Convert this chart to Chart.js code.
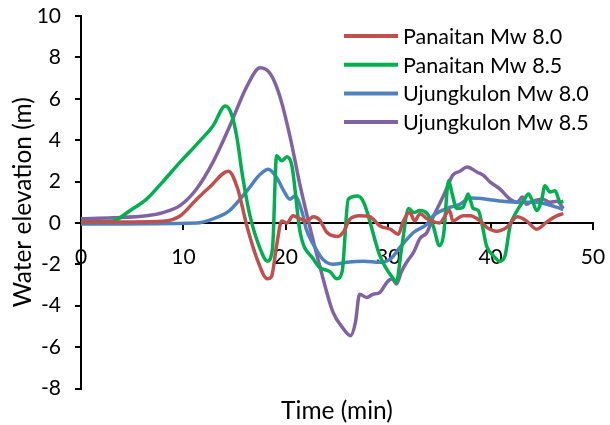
<!DOCTYPE html>
<html>
<head>
<meta charset="utf-8">
<script src="https://cdn.jsdelivr.net/npm/chart.js@4"></script>
<style>
  html, body { margin: 0; padding: 0; background: #fff; }
  #wrap { width: 610px; height: 425px; }
</style>
</head>
<body>
<div id="wrap"><canvas id="chart" width="610" height="425"></canvas></div>
<script>
// series names
const seriesNames = ["Panaitan Mw 8.0", "Panaitan Mw 8.5", "Ujungkulon Mw 8.0", "Ujungkulon Mw 8.5"];
const seriesColors = ["#C0504D", "#00B050", "#4F81BD", "#8064A2"];

// Panaitan Mw 8.0
const timeP80 = [0, 5, 8, 9.7, 11.3, 12.6, 14.4, 15.3, 16.2, 17.2, 18.2, 18.6, 19.1, 19.6, 20.1, 20.7, 21.4, 22.0, 22.7, 23.3, 24.0, 25.1, 25.6, 26.3, 27.2, 28.2, 29.2, 30.2, 31.0, 31.4, 32.1, 32.6, 33.1, 33.8, 35.0, 36.0, 36.3, 37.3, 38.0, 39.0, 39.6, 40.6, 41.6, 42.6, 43.5, 44.5, 45.5, 46.5, 47.1];
const elevP80 = [0.05, 0.05, 0.08, 0.35, 1.15, 1.75, 2.5, 1.65, -0.15, -1.75, -2.7, -2.6, -1.1, 0.1, 0.0, 0.35, 0.2, 0.1, 0.3, 0.15, -0.45, -0.65, -0.45, 0.2, 0.35, 0.3, -0.15, -0.3, -0.55, 0.0, 0.5, 0.1, 0.45, 0.2, 0.0, 0.6, 0.1, 0.35, 0.35, 0.1, -0.2, -0.4, -0.2, 0.3, 0.1, -0.3, 0.05, 0.35, 0.45];

// Panaitan Mw 8.5
const timeP85 = [0, 3.1, 4.8, 6.4, 8.0, 9.7, 11.3, 12.9, 14.1, 14.7, 15.2, 15.8, 16.5, 17.5, 18.2, 18.7, 19.1, 19.6, 20.1, 20.6, 21.4, 22.7, 23.3, 24.3, 25.0, 25.5, 26.1, 27.0, 27.6, 29.2, 30.5, 30.8, 31.3, 32.0, 32.5, 33.1, 33.8, 34.4, 35.0, 35.4, 35.9, 36.2, 36.7, 37.3, 37.8, 38.3, 38.8, 39.2, 39.6, 40.3, 40.9, 41.4, 41.9, 42.6, 43.2, 43.7, 44.1, 44.5, 45.0, 45.3, 45.8, 46.3, 46.8, 47.1];
const elevP85 = [0.05, 0.1, 0.6, 1.15, 2.0, 2.95, 3.8, 4.7, 5.65, 5.25, 4.2, 2.2, 0.35, -1.25, -1.85, -1.25, 3.25, 3.0, 3.2, 2.75, -0.45, -1.75, -2.15, -2.35, -2.7, -2.35, 1.15, 1.3, 1.0, -1.6, -2.7, -2.85, -1.25, 0.7, 0.5, 0.6, 0.45, -0.15, -1.1, -0.6, 2.05, 1.5, 0.7, 0.75, 1.4, 0.7, 0.6, -0.15, -1.1, -1.6, -1.85, -1.6, -0.15, 0.6, 1.05, 1.4, 1.05, 0.6, 1.15, 1.8, 1.5, 1.55, 1.0, 1.05];

// Ujungkulon Mw 8.0
const timeU80 = [0, 11.3, 12.9, 14.5, 16.2, 17.5, 18.3, 19.1, 19.8, 20.4, 20.9, 21.6, 22.0, 22.7, 23.6, 24.6, 26.0, 27.6, 29.2, 30.2, 31.2, 32.5, 33.8, 34.4, 35.7, 37.0, 38.0, 39.6, 41.2, 42.9, 44.5, 45.5, 46.5, 47.1];
const elevU80 = [-0.05, 0.0, 0.2, 0.6, 1.55, 2.35, 2.6, 2.2, 1.55, 1.15, 1.3, 0.5, -0.3, -1.05, -1.75, -2.0, -1.9, -1.85, -1.9, -1.75, -1.15, -0.45, -0.05, 0.35, 0.7, 0.9, 1.2, 1.15, 1.05, 1.0, 1.0, 0.9, 0.75, 0.65];

// Ujungkulon Mw 8.5
const timeU85 = [0, 3.1, 6.4, 8.0, 9.7, 11.3, 12.9, 14.5, 16.2, 17.5, 18.5, 19.4, 20.4, 21.4, 22.4, 23.3, 24.6, 25.6, 26.3, 26.8, 27.2, 27.9, 28.5, 29.2, 29.9, 30.4, 30.8, 31.3, 31.8, 32.5, 33.1, 33.8, 34.4, 35.0, 35.7, 36.3, 37.0, 37.7, 38.7, 39.3, 39.9, 40.9, 41.9, 42.6, 43.1, 43.5, 44.1, 45.1, 45.8, 46.5, 47.1];
const elevU85 = [0.2, 0.25, 0.35, 0.5, 0.85, 1.65, 2.95, 4.65, 6.6, 7.5, 7.2, 6.15, 4.2, 1.8, -0.3, -2.05, -4.3, -5.1, -5.45, -4.8, -3.45, -3.6, -3.45, -3.35, -2.85, -2.7, -2.95, -2.35, -1.9, -1.4, -0.75, -0.45, 0.3, 0.9, 1.65, 2.3, 2.5, 2.7, 2.45, 2.3, 2.0, 1.65, 1.15, 1.0, 1.25, 0.9, 1.05, 1.15, 1.0, 1.05, 0.7];

// axis ticks
const xTicks = [0, 10, 20, 30, 40, 50];
const yTicks = [-8, -6, -4, -2, 0, 2, 4, 6, 8, 10];

const seriesTimes = [timeP80, timeP85, timeU80, timeU85];
const seriesElev = [elevP80, elevP85, elevU80, elevU85];

const FONT = "Lato, 'Open Sans', sans-serif";

function toPoints(times, vals) {
  return times.map((t, i) => ({ x: t, y: vals[i] }));
}

const datasets = seriesNames.map((name, i) => ({
  label: name,
  data: toPoints(seriesTimes[i], seriesElev[i]),
  borderColor: seriesColors[i],
  backgroundColor: seriesColors[i],
  borderWidth: 3.5,
  pointRadius: 0,
  tension: 0.35,
  cubicInterpolationMode: "monotone",
  fill: false,
}));

// legend drawn inside the plot, top right
const insideLegend = {
  id: "insideLegend",
  afterDraw(chart) {
    const ctx = chart.ctx;
    const area = chart.chartArea;
    const x0 = area.right - 249;
    const y0 = area.top + 20;
    const rowH = 28.7;
    ctx.save();
    ctx.font = "21.5px " + FONT;
    ctx.textBaseline = "middle";
    ctx.fillStyle = "#000";
    chart.data.datasets.forEach((ds, i) => {
      const y = y0 + i * rowH;
      ctx.strokeStyle = ds.borderColor;
      ctx.lineWidth = 4;
      ctx.beginPath();
      ctx.moveTo(x0, y);
      ctx.lineTo(x0 + 54, y);
      ctx.stroke();
      ctx.fillText(ds.label, x0 + 59, y + 1);
    });
    ctx.restore();
  }
};

const canvasRef = document.getElementById("chart");

const myChart = new Chart(canvasRef, {
  type: "line",
  data: { datasets: datasets },
  options: {
    responsive: false,
    animation: false,
    layout: { padding: { top: 16, right: 17, left: 0, bottom: 0 } },
    plugins: {
      legend: { display: false },
      tooltip: { enabled: false },
      title: {
        display: true,
        text: "Time (min)",
        position: "bottom",
        fullSize: false,
        color: "#000",
        font: { family: FONT, size: 24.5, weight: "normal", lineHeight: 1.0 },
        padding: { top: 10, bottom: 2 },
      },
    },
    scales: {
      x: {
        type: "linear",
        position: { y: 0 },
        min: 0,
        max: 50,
        afterBuildTicks: (axis) => { axis.ticks = xTicks.map(v => ({ value: v })); },
        afterFit: (axis) => { axis.paddingLeft = 0; axis.paddingRight = 0; },
        ticks: {
          color: "#000",
          font: { family: FONT, size: 21 },
          padding: 16,
          maxRotation: 0,
        },
        grid: { drawOnChartArea: false, color: "#000", tickLength: 6, lineWidth: 2 },
        border: { color: "#000", width: 2 },
      },
      y: {
        min: -8,
        max: 10,
        afterBuildTicks: (axis) => { axis.ticks = yTicks.map(v => ({ value: v })); },
        afterFit: (axis) => { axis.width = 81; axis.paddingTop = 0; axis.paddingBottom = 0; },
        ticks: {
          color: "#000",
          font: { family: FONT, size: 21 },
          padding: 14,
        },
        title: {
          display: true,
          text: "Water elevation (m)",
          color: "#000",
          font: { family: FONT, size: 24.5 },
          padding: { top: 8, bottom: 0 },
        },
        grid: { drawOnChartArea: false, color: "#000", tickLength: 6, lineWidth: 2 },
        border: { color: "#000", width: 2 },
      },
    },
  },
  plugins: [insideLegend],
});
</script>
</body>
</html>
